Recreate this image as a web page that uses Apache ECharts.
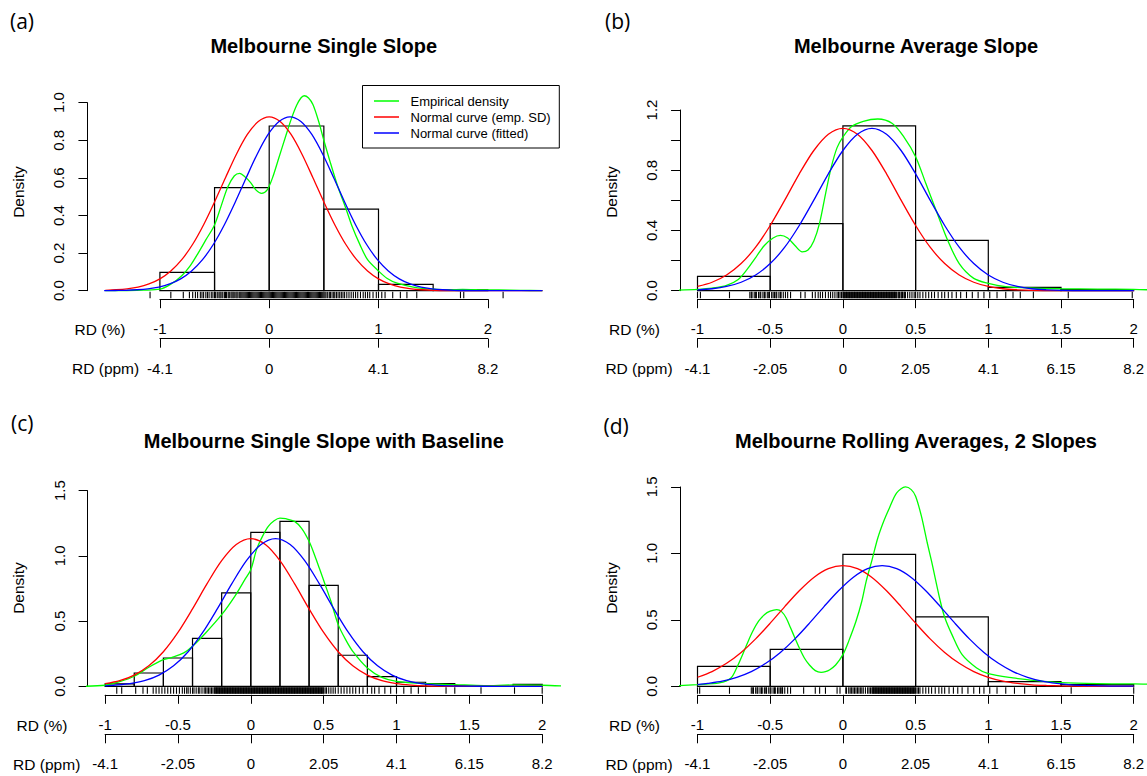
<!DOCTYPE html>
<html><head><meta charset="utf-8">
<script src="https://cdn.jsdelivr.net/npm/echarts@6/dist/echarts.min.js"></script>
<style>html,body{margin:0;padding:0;background:#fff}#c{width:1147px;height:776px}</style>
</head><body><div id="c"></div>
<script>
// ---------- DATA ----------
const seriesNames = ['Empirical density', 'Normal curve (emp. SD)', 'Normal curve (fitted)'];
const panelTitles = ['Melbourne Single Slope', 'Melbourne Average Slope', 'Melbourne Single Slope with Baseline', 'Melbourne Rolling Averages, 2 Slopes'];
const panelLetters = ['(a)', '(b)', '(c)', '(d)'];

const pctTicksA = ['-1', '0', '1', '2'];
const ppmTicksA = ['-4.1', '0', '4.1', '8.2'];
const pctTicks = ['-1', '-0.5', '0', '0.5', '1', '1.5', '2'];
const ppmTicks = ['-4.1', '-2.05', '0', '2.05', '4.1', '6.15', '8.2'];
const yTicksA = ['0.0', '0.2', '0.4', '0.6', '0.8', '1.0'];
const yTicksB = ['0.0', '', '0.4', '', '0.8', '', '1.2'];
const yTicksCD = ['0.0', '0.5', '1.0', '1.5'];

// (a) Melbourne Single Slope
const aBinEdges = [-1, -0.5, 0, 0.5, 1, 1.5, 2];
const aBinHeights = [0.098, 0.548, 0.876, 0.434, 0.034, 0.004];
const aEmp = [[-1.5,0],[-1.3,0.001],[-1.15,0.003],[-1.0,0.008],[-0.9,0.035],[-0.8,0.08],[-0.72,0.135],[-0.65,0.2],[-0.58,0.27],[-0.5,0.35],[-0.44,0.45],[-0.38,0.55],[-0.32,0.61],[-0.27,0.624],[-0.22,0.605],[-0.17,0.575],[-0.12,0.535],[-0.07,0.518],[-0.02,0.535],[0.03,0.6],[0.09,0.71],[0.15,0.82],[0.2,0.91],[0.25,0.985],[0.29,1.025],[0.32,1.037],[0.36,1.025],[0.4,0.99],[0.45,0.905],[0.5,0.80],[0.56,0.68],[0.63,0.55],[0.7,0.44],[0.76,0.34],[0.83,0.245],[0.9,0.165],[1.0,0.105],[1.08,0.065],[1.17,0.04],[1.33,0.018],[1.5,0.008],[1.65,0.005],[1.77,0.007],[1.9,0.005],[2.1,0.004],[2.3,0.002],[2.5,0]];
const aNormSD = [[-1.5,0.002],[-1.4,0.005],[-1.3,0.010],[-1.2,0.019],[-1.1,0.036],[-1.0,0.063],[-0.9,0.105],[-0.8,0.165],[-0.7,0.247],[-0.6,0.351],[-0.5,0.472],[-0.4,0.601],[-0.3,0.726],[-0.2,0.831],[-0.1,0.900],[0,0.925],[0.1,0.900],[0.2,0.831],[0.3,0.726],[0.4,0.601],[0.5,0.472],[0.6,0.351],[0.7,0.247],[0.8,0.165],[0.9,0.105],[1.0,0.063],[1.1,0.036],[1.2,0.019],[1.3,0.010],[1.4,0.005],[1.5,0.002],[1.6,0.001],[1.8,0],[2.0,0],[2.2,0],[2.5,0]];
const aNormFit = [[-1.51,0.000],[-1.41,0.001],[-1.31,0.002],[-1.21,0.005],[-1.11,0.010],[-1.01,0.019],[-0.91,0.036],[-0.81,0.063],[-0.71,0.105],[-0.61,0.165],[-0.51,0.247],[-0.41,0.351],[-0.31,0.472],[-0.21,0.601],[-0.11,0.726],[-0.01,0.831],[0.09,0.900],[0.19,0.925],[0.29,0.900],[0.39,0.831],[0.49,0.726],[0.59,0.601],[0.69,0.472],[0.79,0.351],[0.89,0.247],[0.99,0.165],[1.09,0.105],[1.19,0.063],[1.29,0.036],[1.39,0.019],[1.49,0.010],[1.59,0.005],[1.69,0.002],[1.79,0.001],[1.99,0],[2.2,0],[2.5,0]];
const aRug = [-1.09,-0.9,-0.786,-0.73,-0.7,-0.675,-0.655,-0.63,-0.615,-0.6,-0.58,-0.565,-0.55,-0.53,-0.515,-0.5,-0.49,-0.475,-0.46,-0.45,-0.44,-0.425,-0.41,-0.4,-0.39,-0.375,-0.365,-0.35,-0.34,-0.33,-0.32,-0.305,-0.295,-0.285,-0.27,-0.26,-0.25,-0.24,-0.23,-0.22,-0.21,-0.2,-0.19,-0.18,-0.17,-0.16,-0.15,-0.14,-0.13,-0.12,-0.11,-0.1,-0.09,-0.08,-0.07,-0.06,-0.05,-0.04,-0.03,-0.02,-0.01,0,0.01,0.02,0.03,0.04,0.05,0.06,0.07,0.08,0.09,0.1,0.11,0.12,0.13,0.14,0.15,0.16,0.17,0.18,0.19,0.2,0.21,0.22,0.23,0.24,0.25,0.26,0.27,0.28,0.29,0.3,0.31,0.32,0.33,0.34,0.35,0.36,0.37,0.38,0.39,0.4,0.41,0.42,0.43,0.44,0.45,0.46,0.47,0.48,0.49,0.5,0.51,0.52,0.535,0.55,0.56,0.575,0.59,0.6,0.615,0.63,0.645,0.66,0.675,0.69,0.71,0.73,0.75,0.77,0.79,0.81,0.835,0.86,0.88,0.9,0.92,0.95,0.98,1.0,1.03,1.06,1.13,1.2,1.26,1.35,1.75,1.78,2.14];

// (b) Melbourne Average Slope
const bBinEdges = [-1, -0.5, 0, 0.5, 1, 1.5, 2];
const bBinHeights = [0.095, 0.445, 1.094, 0.334, 0.022, 0.007];
const bEmp = [[-1.15,0.003],[-1.0,0.009],[-0.9,0.017],[-0.8,0.035],[-0.72,0.075],[-0.66,0.14],[-0.6,0.22],[-0.54,0.3],[-0.48,0.35],[-0.43,0.367],[-0.38,0.35],[-0.33,0.3],[-0.28,0.258],[-0.24,0.27],[-0.2,0.33],[-0.16,0.45],[-0.12,0.64],[-0.08,0.82],[-0.04,0.95],[0.0,1.02],[0.06,1.09],[0.14,1.125],[0.24,1.14],[0.34,1.11],[0.42,1.02],[0.5,0.89],[0.57,0.713],[0.64,0.536],[0.72,0.336],[0.8,0.18],[0.9,0.082],[1.0,0.049],[1.12,0.027],[1.28,0.018],[1.5,0.013],[1.75,0.011],[2.0,0.009],[2.15,0.004]];
const bNormSD = [[-1.0,0.028],[-0.9,0.056],[-0.8,0.104],[-0.7,0.180],[-0.6,0.289],[-0.5,0.433],[-0.4,0.601],[-0.3,0.776],[-0.2,0.931],[-0.1,1.039],[0,1.078],[0.1,1.039],[0.2,0.931],[0.3,0.776],[0.4,0.601],[0.5,0.433],[0.6,0.289],[0.7,0.180],[0.8,0.104],[0.9,0.056],[1.0,0.028],[1.1,0.013],[1.2,0.006],[1.3,0.002],[1.4,0.001],[1.6,0],[2.0,0]];
const bNormFit = [[-1.0,0.006],[-0.9,0.013],[-0.8,0.028],[-0.7,0.056],[-0.6,0.104],[-0.5,0.180],[-0.4,0.289],[-0.3,0.433],[-0.2,0.601],[-0.1,0.776],[0,0.931],[0.1,1.039],[0.2,1.078],[0.3,1.039],[0.4,0.931],[0.5,0.776],[0.6,0.601],[0.7,0.433],[0.8,0.289],[0.9,0.180],[1.0,0.104],[1.1,0.056],[1.2,0.028],[1.3,0.013],[1.4,0.006],[1.5,0.002],[1.6,0.001],[1.8,0],[2.0,0]];
const bRug = [-1.0,-0.98,-0.78,-0.64,-0.63,-0.625,-0.61,-0.6,-0.595,-0.58,-0.57,-0.565,-0.55,-0.54,-0.535,-0.52,-0.51,-0.505,-0.49,-0.48,-0.47,-0.46,-0.455,-0.44,-0.43,-0.425,-0.41,-0.395,-0.38,-0.36,-0.29,-0.26,-0.21,-0.19,-0.17,-0.155,-0.14,-0.12,-0.1,-0.085,-0.07,-0.055,-0.04,-0.03,-0.02,-0.01,0,0.005,0.01,0.015,0.02,0.025,0.03,0.035,0.04,0.045,0.05,0.055,0.06,0.065,0.07,0.075,0.08,0.085,0.09,0.095,0.1,0.105,0.11,0.115,0.12,0.125,0.13,0.135,0.14,0.145,0.15,0.155,0.16,0.165,0.17,0.175,0.18,0.185,0.19,0.195,0.2,0.205,0.21,0.215,0.22,0.225,0.23,0.235,0.24,0.245,0.25,0.255,0.26,0.265,0.27,0.275,0.28,0.285,0.29,0.295,0.3,0.305,0.31,0.315,0.32,0.325,0.33,0.335,0.34,0.345,0.35,0.355,0.36,0.365,0.37,0.38,0.385,0.39,0.4,0.405,0.41,0.42,0.425,0.43,0.445,0.46,0.475,0.49,0.5,0.515,0.53,0.55,0.57,0.59,0.61,0.63,0.655,0.68,0.7,0.725,0.75,0.78,0.81,0.85,0.89,0.93,0.97,1.01,1.06,1.12,1.17,1.22,1.31,1.55,1.99];

// (c) Melbourne Single Slope with Baseline
const cBinEdges = [-1, -0.8, -0.6, -0.4, -0.2, 0, 0.2, 0.4, 0.6, 0.8, 1, 1.2, 1.4, 1.6, 1.8, 2];
const cBinHeights = [0.018, 0.102, 0.217, 0.368, 0.716, 1.18, 1.265, 0.774, 0.238, 0.074, 0.031, 0.02, 0.005, 0, 0.015];
const cEmp = [[-1.15,0.0],[-1.0,0.008],[-0.9,0.035],[-0.8,0.077],[-0.7,0.146],[-0.6,0.204],[-0.54,0.222],[-0.46,0.256],[-0.4,0.307],[-0.31,0.409],[-0.2,0.549],[-0.11,0.69],[-0.04,0.82],[0.0,0.894],[0.04,1.05],[0.08,1.15],[0.12,1.227],[0.16,1.27],[0.2,1.29],[0.24,1.285],[0.3,1.265],[0.35,1.21],[0.4,1.112],[0.44,1.0],[0.47,0.907],[0.51,0.78],[0.55,0.652],[0.6,0.473],[0.65,0.36],[0.7,0.268],[0.8,0.141],[0.9,0.069],[1.0,0.038],[1.2,0.02],[1.4,0.013],[1.6,0.005],[1.8,0.01],[2.0,0.008],[2.15,0.002]];
const cNormSD = [[-1.0,0.020],[-0.9,0.043],[-0.8,0.086],[-0.7,0.157],[-0.6,0.265],[-0.5,0.413],[-0.4,0.594],[-0.3,0.787],[-0.2,0.963],[-0.1,1.087],[0,1.132],[0.1,1.087],[0.2,0.963],[0.3,0.787],[0.4,0.594],[0.5,0.413],[0.6,0.265],[0.7,0.157],[0.8,0.086],[0.9,0.043],[1.0,0.020],[1.1,0.009],[1.2,0.003],[1.3,0.001],[1.5,0],[2.0,0]];
const cNormFit = [[-1.0,0.004],[-0.93,0.009],[-0.83,0.020],[-0.73,0.043],[-0.63,0.086],[-0.53,0.157],[-0.43,0.265],[-0.33,0.413],[-0.23,0.594],[-0.13,0.787],[-0.03,0.963],[0.07,1.087],[0.17,1.132],[0.27,1.087],[0.37,0.963],[0.47,0.787],[0.57,0.594],[0.67,0.413],[0.77,0.265],[0.87,0.157],[0.97,0.086],[1.07,0.043],[1.17,0.020],[1.27,0.009],[1.37,0.003],[1.47,0.001],[1.7,0],[2.0,0]];
const cRug = [-0.92,-0.886,-0.79,-0.74,-0.71,-0.67,-0.65,-0.63,-0.61,-0.59,-0.57,-0.55,-0.53,-0.51,-0.49,-0.47,-0.455,-0.44,-0.43,-0.415,-0.4,-0.39,-0.375,-0.36,-0.35,-0.335,-0.32,-0.31,-0.3,-0.29,-0.28,-0.27,-0.26,-0.25,-0.245,-0.24,-0.235,-0.23,-0.225,-0.22,-0.215,-0.21,-0.205,-0.2,-0.195,-0.19,-0.185,-0.18,-0.175,-0.17,-0.165,-0.16,-0.155,-0.15,-0.145,-0.14,-0.135,-0.13,-0.125,-0.12,-0.115,-0.11,-0.105,-0.1,-0.095,-0.09,-0.085,-0.08,-0.075,-0.07,-0.065,-0.06,-0.055,-0.05,-0.045,-0.04,-0.035,-0.03,-0.025,-0.02,-0.015,-0.01,-0.005,0,0.005,0.01,0.015,0.02,0.025,0.03,0.035,0.04,0.045,0.05,0.055,0.06,0.065,0.07,0.075,0.08,0.085,0.09,0.095,0.1,0.105,0.11,0.115,0.12,0.125,0.13,0.135,0.14,0.145,0.15,0.155,0.16,0.165,0.17,0.175,0.18,0.185,0.19,0.195,0.2,0.205,0.21,0.215,0.22,0.225,0.23,0.235,0.24,0.245,0.25,0.255,0.26,0.265,0.27,0.275,0.28,0.285,0.29,0.295,0.3,0.305,0.31,0.315,0.32,0.325,0.33,0.335,0.34,0.345,0.35,0.355,0.36,0.365,0.37,0.375,0.38,0.385,0.39,0.395,0.4,0.405,0.41,0.415,0.42,0.425,0.43,0.435,0.44,0.445,0.45,0.455,0.46,0.465,0.47,0.475,0.48,0.485,0.49,0.495,0.5,0.51,0.52,0.535,0.55,0.565,0.58,0.6,0.62,0.64,0.66,0.68,0.7,0.72,0.745,0.77,0.8,0.83,0.85,0.88,0.92,0.96,1.0,1.05,1.1,1.15,1.2,1.34,1.4,1.58,1.81,2.0];

// (d) Melbourne Rolling Averages, 2 Slopes
const dBinEdges = [-1, -0.5, 0, 0.5, 1, 1.5, 2];
const dBinHeights = [0.15, 0.278, 0.993, 0.522, 0.035, 0.012];
const dEmp = [[-1.15,0.004],[-1.0,0.013],[-0.85,0.025],[-0.77,0.063],[-0.73,0.14],[-0.69,0.238],[-0.655,0.33],[-0.62,0.414],[-0.58,0.49],[-0.54,0.539],[-0.5,0.565],[-0.455,0.577],[-0.42,0.56],[-0.39,0.514],[-0.36,0.44],[-0.33,0.364],[-0.3,0.29],[-0.265,0.213],[-0.23,0.16],[-0.19,0.118],[-0.15,0.105],[-0.12,0.11],[-0.09,0.125],[-0.05,0.16],[0.0,0.238],[0.04,0.34],[0.09,0.489],[0.13,0.64],[0.16,0.79],[0.2,0.95],[0.24,1.116],[0.28,1.24],[0.32,1.342],[0.37,1.455],[0.43,1.50],[0.47,1.48],[0.5,1.43],[0.54,1.28],[0.58,1.08],[0.61,0.94],[0.67,0.64],[0.7,0.52],[0.75,0.389],[0.82,0.238],[0.92,0.138],[1.0,0.095],[1.17,0.063],[1.33,0.043],[1.5,0.028],[1.75,0.02],[2.0,0.018],[2.15,0.015]];
const dNormSD = [[-1.0,0.068],[-0.9,0.111],[-0.8,0.173],[-0.7,0.255],[-0.6,0.357],[-0.5,0.475],[-0.4,0.600],[-0.3,0.719],[-0.2,0.819],[-0.1,0.885],[0,0.908],[0.1,0.885],[0.2,0.819],[0.3,0.719],[0.4,0.600],[0.5,0.475],[0.6,0.357],[0.7,0.255],[0.8,0.173],[0.9,0.111],[1.0,0.068],[1.1,0.039],[1.2,0.022],[1.3,0.011],[1.4,0.006],[1.5,0.003],[1.6,0.001],[1.8,0],[2.0,0]];
const dNormFit = [[-1.0,0.013],[-0.93,0.022],[-0.83,0.039],[-0.73,0.068],[-0.63,0.111],[-0.53,0.173],[-0.43,0.255],[-0.33,0.357],[-0.23,0.475],[-0.13,0.600],[-0.03,0.719],[0.07,0.819],[0.17,0.885],[0.27,0.908],[0.37,0.885],[0.47,0.819],[0.57,0.719],[0.67,0.600],[0.77,0.475],[0.87,0.357],[0.97,0.255],[1.07,0.173],[1.17,0.111],[1.27,0.068],[1.37,0.039],[1.47,0.022],[1.57,0.011],[1.67,0.006],[1.77,0.003],[1.87,0.001],[2.0,0.001]];
const dRug = [-1.0,-0.985,-0.78,-0.63,-0.62,-0.615,-0.6,-0.59,-0.585,-0.57,-0.56,-0.555,-0.54,-0.53,-0.525,-0.51,-0.5,-0.495,-0.48,-0.47,-0.465,-0.45,-0.44,-0.43,-0.42,-0.415,-0.4,-0.38,-0.36,-0.27,-0.19,-0.16,-0.12,-0.04,-0.02,0.02,0.025,0.04,0.05,0.06,0.07,0.08,0.09,0.1,0.11,0.12,0.13,0.14,0.155,0.17,0.18,0.19,0.2,0.205,0.21,0.215,0.22,0.225,0.23,0.235,0.24,0.245,0.25,0.255,0.26,0.265,0.27,0.275,0.28,0.285,0.29,0.295,0.3,0.305,0.31,0.315,0.32,0.325,0.33,0.335,0.34,0.345,0.35,0.355,0.36,0.365,0.37,0.375,0.38,0.385,0.39,0.395,0.4,0.405,0.41,0.415,0.42,0.425,0.43,0.435,0.44,0.445,0.45,0.455,0.46,0.465,0.47,0.475,0.48,0.485,0.49,0.495,0.5,0.51,0.52,0.53,0.55,0.57,0.59,0.61,0.635,0.66,0.68,0.7,0.73,0.76,0.79,0.82,0.86,0.9,0.94,0.97,1.01,1.06,1.12,1.18,1.25,1.33,1.57,2.0];

// ---------- LAYOUT / STYLE ----------
const FONT = '"Liberation Sans", Arial, Helvetica, sans-serif';
const COLORS = ['#00ff00', '#ff0000', '#0000ff'];

const panels = [
  { title: panelTitles[0], letter: panelLetters[0], edges: aBinEdges, heights: aBinHeights, curves: [aEmp, aNormSD, aNormFit], rug: aRug,
    yLabels: yTicksA, yStep: 0.2, pct: pctTicksA, ppm: ppmTicksA, xStep: 1,
    g: { x0: 269.2, kx: 109.3, xmin: -1.663, xmax: 2.663, y0: 290.7, ky: 188, ymin: -0.042, ymax: 1.085 },
    t: { title: [323.8, 45.7], letter: [10, 21], dens: [18.5, 192], pct: [100, 329.3], ppm: [105.6, 368.3] } },
  { title: panelTitles[1], letter: panelLetters[1], edges: bBinEdges, heights: bBinHeights, curves: [bEmp, bNormSD, bNormFit], rug: bRug,
    yLabels: yTicksB, yStep: 0.2, pct: pctTicks, ppm: ppmTicks, xStep: 0.5,
    g: { x0: 842.9, kx: 145.4, xmin: -1.12, xmax: 2.12, y0: 290.7, ky: 150.6, ymin: -0.048, ymax: 1.25 },
    t: { title: [916, 45.7], letter: [605, 20.7], dens: [611.5, 192], pct: [634.5, 329.3], ppm: [639, 368.3] } },
  { title: panelTitles[2], letter: panelLetters[2], edges: cBinEdges, heights: cBinHeights, curves: [cEmp, cNormSD, cNormFit], rug: cRug,
    yLabels: yTicksCD, yStep: 0.5, pct: pctTicks, ppm: ppmTicks, xStep: 0.5,
    g: { x0: 250.8, kx: 145.7, xmin: -1.12, xmax: 2.12, y0: 686.3, ky: 130.4, ymin: -0.06, ymax: 1.56 },
    t: { title: [323.8, 441.3], letter: [11, 423], dens: [18.4, 588], pct: [42, 725.3], ppm: [46.7, 764.7] } },
  { title: panelTitles[3], letter: panelLetters[3], edges: dBinEdges, heights: dBinHeights, curves: [dEmp, dNormSD, dNormFit], rug: dRug,
    yLabels: yTicksCD, yStep: 0.5, pct: pctTicks, ppm: ppmTicks, xStep: 0.5,
    g: { x0: 842.9, kx: 145.4, xmin: -1.12, xmax: 2.12, y0: 686.3, ky: 132.9, ymin: -0.06, ymax: 1.56 },
    t: { title: [916, 441.3], letter: [603.5, 426.3], dens: [611.5, 588], pct: [634.5, 725.3], ppm: [639, 764.7] } }
];

const grids = [], xAxes = [], yAxes = [], series = [], graphics = [];

panels.forEach((p, i) => {
  const g = p.g, base = i * 4;
  const left = g.x0 + g.xmin * g.kx;
  const yTop = (p.yLabels.length - 1) * p.yStep;
  // main plotting grid
  grids.push({ left: left, top: g.y0 - g.ymax * g.ky, width: (g.xmax - g.xmin) * g.kx, height: (g.ymax - g.ymin) * g.ky, containLabel: false, outerBoundsMode: 'none' });
  xAxes.push({ gridIndex: base, type: 'value', min: g.xmin, max: g.xmax, show: false });
  yAxes.push({ gridIndex: base, type: 'value', min: g.ymin, max: g.ymax, show: false });
  // y axis (Density)
  grids.push({ left: left, top: g.y0 - yTop * g.ky, width: 20, height: yTop * g.ky, containLabel: false, outerBoundsMode: 'none' });
  xAxes.push({ gridIndex: base + 1, type: 'value', min: 0, max: 1, show: false });
  yAxes.push({ gridIndex: base + 1, type: 'value', min: 0, max: yTop, interval: p.yStep, position: 'left',
    axisLine: { show: true, lineStyle: { color: '#000', width: 1 } },
    axisTick: { show: true, length: 9, lineStyle: { color: '#000', width: 1 } },
    axisLabel: { show: true, rotate: 90, margin: 21, fontSize: 15, color: '#000', fontFamily: FONT,
      formatter: v => p.yLabels[Math.round(v / p.yStep)] || '' },
    splitLine: { show: false } });
  // two x axes: RD (%) and RD (ppm)
  [[8.5, p.pct], [48, p.ppm]].forEach((ax, k) => {
    const lineY = g.y0 + ax[0];
    grids.push({ left: g.x0 - g.kx, width: 3 * g.kx, top: lineY - 10, height: 10, containLabel: false, outerBoundsMode: 'none' });
    xAxes.push({ gridIndex: base + 2 + k, type: 'value', min: -1, max: 2, interval: p.xStep, position: 'bottom',
      axisLine: { show: true, onZero: false, lineStyle: { color: '#000', width: 1 } },
      axisTick: { show: true, length: 9, lineStyle: { color: '#000', width: 1 } },
      axisLabel: { show: true, margin: 22, fontSize: 15, color: '#000', fontFamily: FONT, showMinLabel: true, showMaxLabel: true,
        formatter: v => { const s = ax[1][Math.round((v + 1) / p.xStep)]; return s === undefined ? '' : s; } },
      splitLine: { show: false } });
    yAxes.push({ gridIndex: base + 2 + k, type: 'value', min: 0, max: 1, show: false });
  });

  // histogram
  const histData = p.heights.map((h, j) => [p.edges[j], p.edges[j + 1], h]);
  series.push({ type: 'custom', xAxisIndex: base, yAxisIndex: base, silent: true, z: 2,
    encode: { x: [0, 1], y: 2 }, data: histData,
    renderItem: (params, api) => {
      const a = api.coord([api.value(0), api.value(2)]);
      const b = api.coord([api.value(1), 0]);
      return { type: 'rect', shape: { x: a[0], y: a[1], width: b[0] - a[0], height: b[1] - a[1] },
        style: { fill: 'none', stroke: '#000', lineWidth: 1.2 } };
    } });
  // rug
  series.push({ type: 'custom', xAxisIndex: base, yAxisIndex: base, silent: true, z: 2,
    encode: { x: 0, y: 1 }, data: p.rug.map(v => [v, 0]),
    renderItem: (params, api) => {
      const c = api.coord([api.value(0), 0]);
      return { type: 'line', shape: { x1: c[0], y1: c[1] + 1, x2: c[0], y2: c[1] + 7.5 },
        style: { stroke: '#000', lineWidth: 1.1 } };
    } });
  // curves
  p.curves.forEach((data, k) => {
    series.push({ type: 'line', name: seriesNames[k], xAxisIndex: base, yAxisIndex: base, data: data,
      smooth: 0.3, symbol: 'none', showSymbol: false, clip: true, silent: true, z: 3 + k,
      lineStyle: { color: COLORS[k], width: 1.3 }, itemStyle: { color: COLORS[k] } });
  });

  // texts
  graphics.push({ type: 'text', x: p.t.title[0], y: p.t.title[1], style: { text: p.title, fontSize: 20, fontWeight: 'bold', fontFamily: FONT, fill: '#000', align: 'center', verticalAlign: 'middle' } });
  graphics.push({ type: 'text', x: p.t.letter[0], y: p.t.letter[1], style: { text: p.letter, fontSize: 21, fontFamily: '"Open Sans", "Noto Sans", sans-serif', fill: '#000', align: 'left', verticalAlign: 'middle' } });
  graphics.push({ type: 'text', x: p.t.dens[0], y: p.t.dens[1], rotation: Math.PI / 2, style: { text: 'Density', fontSize: 15.5, fontFamily: FONT, fill: '#000', align: 'center', verticalAlign: 'middle' } });
  graphics.push({ type: 'text', x: p.t.pct[0], y: p.t.pct[1], style: { text: 'RD (%)', fontSize: 15.5, fontFamily: FONT, fill: '#000', align: 'center', verticalAlign: 'middle' } });
  graphics.push({ type: 'text', x: p.t.ppm[0], y: p.t.ppm[1], style: { text: 'RD (ppm)', fontSize: 15.5, fontFamily: FONT, fill: '#000', align: 'center', verticalAlign: 'middle' } });
});

// legend frame (panel a)
graphics.push({ type: 'rect', z: 1, shape: { x: 362.5, y: 85.5, width: 196.8, height: 62.5 }, style: { fill: '#fff', stroke: '#000', lineWidth: 1 } });

const chart = echarts.init(document.getElementById('c'), null, { renderer: 'svg' });
chart.setOption({
  animation: false,
  backgroundColor: '#fff',
  grid: grids,
  xAxis: xAxes,
  yAxis: yAxes,
  legend: { data: seriesNames, orient: 'vertical', left: 374, top: 93, padding: 0, itemGap: 0,
    itemWidth: 25, itemHeight: 1.5, icon: 'rect', selectedMode: false, z: 5,
    textStyle: { fontSize: 13, fontFamily: FONT, color: '#000', lineHeight: 16, padding: [0, 0, 0, 6.5] } },
  graphic: graphics,
  series: series
});
</script>
</body></html>
